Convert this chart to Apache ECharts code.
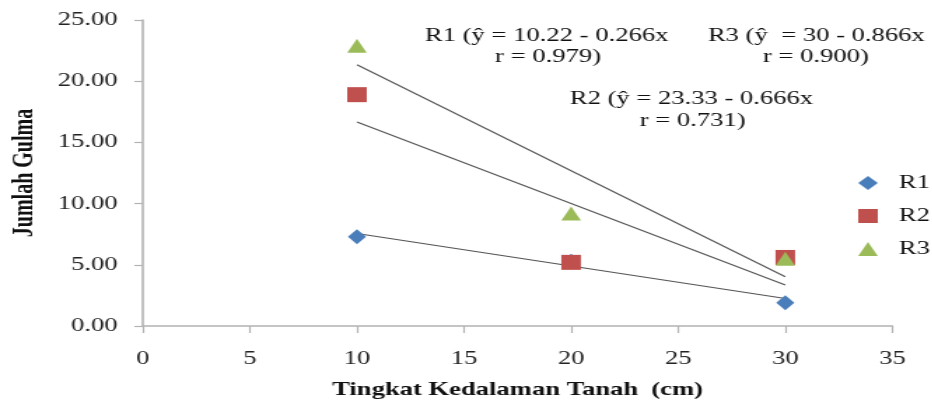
<!DOCTYPE html>
<html><head><meta charset="utf-8">
<script src="https://cdn.jsdelivr.net/npm/echarts@6/dist/echarts.min.js"></script>
<style>
html,body{margin:0;padding:0;background:#fff;overflow:hidden}
#wrap{width:932px;height:404px;overflow:hidden}
#c{width:666px;height:404px;transform:scaleX(1.4);transform-origin:0 0}
</style>
</head><body><div id="wrap"><div id="c"></div></div>
<script>
const depths = [10, 20, 30];
const r1 = [7.3, 5.3, 1.9];
const r2 = [18.9, 5.2, 5.6];
const r3 = [22.9, 9.2, 5.5];
const trend1 = [[10, 7.56], [30, 2.24]];
const trend2 = [[10, 16.67], [30, 3.35]];
const trend3 = [[10, 21.34], [30, 4.02]];
const xTicks = {min: 0, max: 35, interval: 5};
const yTicks = {min: 0, max: 25, interval: 5};
const notes = [
  {line1: 'R1 (ŷ = 10.22 - 0.266x', line2: 'r = 0.979)'},
  {line1: 'R2 (ŷ = 23.33 - 0.666x', line2: 'r = 0.731)'},
  {line1: 'R3 (ŷ  = 30 - 0.866x', line2: 'r = 0.900)'}
];

const font = '"Liberation Serif", "DejaVu Serif", serif';
const pairs = a => depths.map((d, i) => [d, a[i]]);
const trendStyle = {type: 'line', symbol: 'none', silent: true, lineStyle: {color: '#555', width: 1.1}, z: 1};
const axisGray = '#b3b3b3';

const chart = echarts.init(document.getElementById('c'));
chart.setOption({
  animation: false,
  backgroundColor: '#fff',
  textStyle: {fontFamily: font},
  grid: {left: 102, right: 28.6, top: 20, bottom: 78, containLabel: false, outerBoundsMode: 'none'},
  xAxis: {
    type: 'value', min: xTicks.min, max: xTicks.max, interval: xTicks.interval,
    axisLine: {lineStyle: {color: axisGray, width: 1.6}},
    axisTick: {show: true, length: 7, lineStyle: {color: axisGray, width: 1.2}},
    splitLine: {show: false},
    axisLabel: {color: '#222', fontSize: 19, fontFamily: font, margin: 24},
    name: 'Tingkat Kedalaman Tanah  (cm)', nameLocation: 'middle', nameGap: 55,
    nameTextStyle: {color: '#111', fontSize: 19, fontWeight: 'bold', fontFamily: font}
  },
  yAxis: {
    type: 'value', min: yTicks.min, max: yTicks.max, interval: yTicks.interval,
    axisLine: {show: true, lineStyle: {color: axisGray, width: 1.6}},
    axisTick: {show: true, length: 6, lineStyle: {color: axisGray, width: 1.2}},
    splitLine: {show: false},
    axisLabel: {color: '#222', fontSize: 19, fontFamily: font, margin: 18, formatter: v => v.toFixed(2)},
    name: 'Jumlah Gulma', nameLocation: 'middle', nameGap: 74,
    nameTextStyle: {color: '#111', fontSize: 20, fontWeight: 'bold', fontFamily: font}
  },
  legend: {
    orient: 'vertical', left: 608, top: 168, itemGap: 13, itemWidth: 14, itemHeight: 14,
    data: ['R1', 'R2', 'R3'],
    textStyle: {color: '#111', fontSize: 19, lineHeight: 20, fontFamily: font, padding: [0, 0, 0, 10]}
  },
  series: [
    Object.assign({name: 't1', data: trend1}, trendStyle),
    Object.assign({name: 't2', data: trend2}, trendStyle),
    Object.assign({name: 't3', data: trend3}, trendStyle),
    {name: 'R1', type: 'scatter', data: pairs(r1), symbol: 'diamond', symbolSize: [13, 15],
     itemStyle: {color: '#4a7ebb', opacity: 1}, z: 3},
    {name: 'R2', type: 'scatter', data: pairs(r2), symbol: 'rect', symbolSize: [14, 15],
     itemStyle: {color: '#c0504d', opacity: 1}, z: 4},
    {name: 'R3', type: 'scatter', data: pairs(r3), symbol: 'triangle', symbolSize: [14, 14],
     itemStyle: {color: '#9bbb59', opacity: 1}, z: 5}
  ],
  graphic: [
    {type: 'text', left: 303.6, top: 27, style: {text: notes[0].line1, font: '19px ' + font, fill: '#111'}},
    {type: 'text', left: 353.6, top: 48, style: {text: notes[0].line2, font: '19px ' + font, fill: '#111'}},
    {type: 'text', left: 505.7, top: 27, style: {text: notes[2].line1, font: '19px ' + font, fill: '#111'}},
    {type: 'text', left: 545, top: 48, style: {text: notes[2].line2, font: '19px ' + font, fill: '#111'}},
    {type: 'text', left: 407, top: 90, style: {text: notes[1].line1, font: '19px ' + font, fill: '#111'}},
    {type: 'text', left: 457, top: 112, style: {text: notes[1].line2, font: '19px ' + font, fill: '#111'}}
  ]
});
</script></body></html>
